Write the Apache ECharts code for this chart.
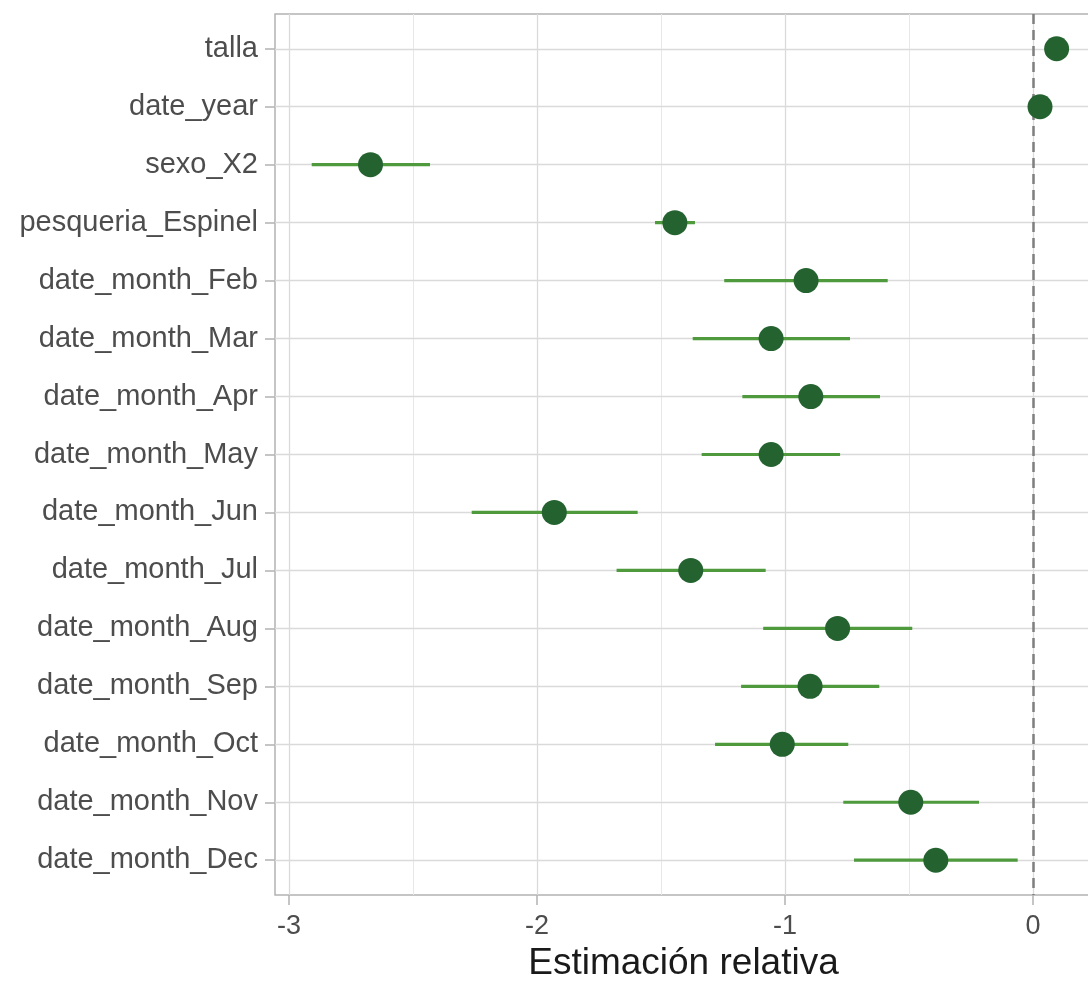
<!DOCTYPE html>
<html><head><meta charset="utf-8">
<script src="https://cdn.jsdelivr.net/npm/echarts@6/dist/echarts.min.js"></script>
<style>html,body{margin:0;padding:0;background:#fff}#c{width:1088px;height:981px}</style>
</head><body><div id="c"></div>
<script>
const categories = ['talla','date_year','sexo_X2','pesqueria_Espinel','date_month_Feb','date_month_Mar','date_month_Apr','date_month_May','date_month_Jun','date_month_Jul','date_month_Aug','date_month_Sep','date_month_Oct','date_month_Nov','date_month_Dec'];
const estimates = [0.095, 0.028, -2.671, -1.444, -0.915, -1.056, -0.896, -1.056, -1.930, -1.380, -0.788, -0.899, -1.011, -0.493, -0.392];
const lower = [0.080, 0.018, -2.908, -1.524, -1.245, -1.372, -1.172, -1.336, -2.263, -1.679, -1.088, -1.177, -1.282, -0.765, -0.722];
const upper = [0.110, 0.038, -2.431, -1.363, -0.586, -0.738, -0.617, -0.778, -1.594, -1.078, -0.487, -0.620, -0.745, -0.218, -0.062];
const xTicks = [-3, -2, -1, 0];
const xMinorTicks = [-2.5, -1.5, -0.5];
const refLine = 0;
const xTitle = 'Estimación relativa';

const yIdx = categories.map((c, i) => i);
const font = 'Liberation Sans, Arial, Helvetica, sans-serif';

const gridLines = [].concat(
  xMinorTicks.map(v => ({ xAxis: v, lineStyle: { color: '#e8e8e8', width: 1, type: 'solid' } })),
  xTicks.map(v => ({ xAxis: v, lineStyle: { color: '#dadada', width: 1.3, type: 'solid' } })),
  yIdx.map(i => ({ yAxis: i, lineStyle: { color: '#dadada', width: 1.3, type: 'solid' } }))
);

const chart = echarts.init(document.getElementById('c'), null, { renderer: 'canvas' });
chart.setOption({
  animation: false,
  backgroundColor: '#ffffff',
  grid: {
    left: 275, top: 14, right: -17, bottom: 86,
    show: true, borderColor: '#b3b3b3', borderWidth: 1.5, backgroundColor: 'transparent',
    containLabel: false, outerBoundsMode: 'none'
  },
  xAxis: {
    type: 'value', min: -3.056, max: 0.29, position: 'bottom',
    axisLine: { show: false, onZero: false },
    axisTick: { show: true, customValues: xTicks, length: 10, lineStyle: { color: '#b3b3b3', width: 1.5 } },
    axisLabel: { customValues: xTicks, fontSize: 27, color: '#4d4d4d', margin: 18, fontFamily: font },
    splitLine: { show: false },
    name: xTitle, nameLocation: 'middle', nameGap: 46,
    nameTextStyle: { fontSize: 37, color: '#1a1a1a', fontFamily: font, padding: [0, 13, 0, 0] }
  },
  yAxis: {
    type: 'value', inverse: true, min: -0.6, max: 14.6, position: 'left',
    axisLine: { show: false, onZero: false },
    axisTick: { show: true, customValues: yIdx, length: 10, lineStyle: { color: '#b3b3b3', width: 1.5 } },
    axisLabel: { customValues: yIdx, fontSize: 29, color: '#4d4d4d', margin: 17, fontFamily: font,
      formatter: v => categories[Math.round(v)] },
    splitLine: { show: false }
  },
  series: [
    {
      type: 'line', z: 1, silent: true, symbol: 'none',
      lineStyle: { width: 0, opacity: 0 },
      data: estimates.map((v, i) => [v, i]),
      markLine: {
        silent: true, symbol: 'none', z: 1, animation: false,
        label: { show: false },
        data: gridLines.concat([{ xAxis: refLine, lineStyle: { color: '#7f7f7f', width: 2.5, type: [10, 6] } }])
      }
    },
    {
      type: 'custom', z: 10, silent: true,
      data: categories.map((c, i) => [lower[i], upper[i], i]),
      encode: { x: [0, 1], y: 2 },
      renderItem: (params, api) => {
        const y = api.value(2);
        const p1 = api.coord([api.value(0), y]);
        const p2 = api.coord([api.value(1), y]);
        return { type: 'line', shape: { x1: p1[0], y1: p1[1], x2: p2[0], y2: p2[1] },
          style: { stroke: '#4e9a3c', lineWidth: 3.2 } };
      }
    },
    {
      type: 'scatter', z: 11, silent: true,
      symbolSize: 25,
      itemStyle: { color: '#24632f', opacity: 1 },
      data: estimates.map((v, i) => [v, i])
    }
  ]
});
</script>
</body></html>
